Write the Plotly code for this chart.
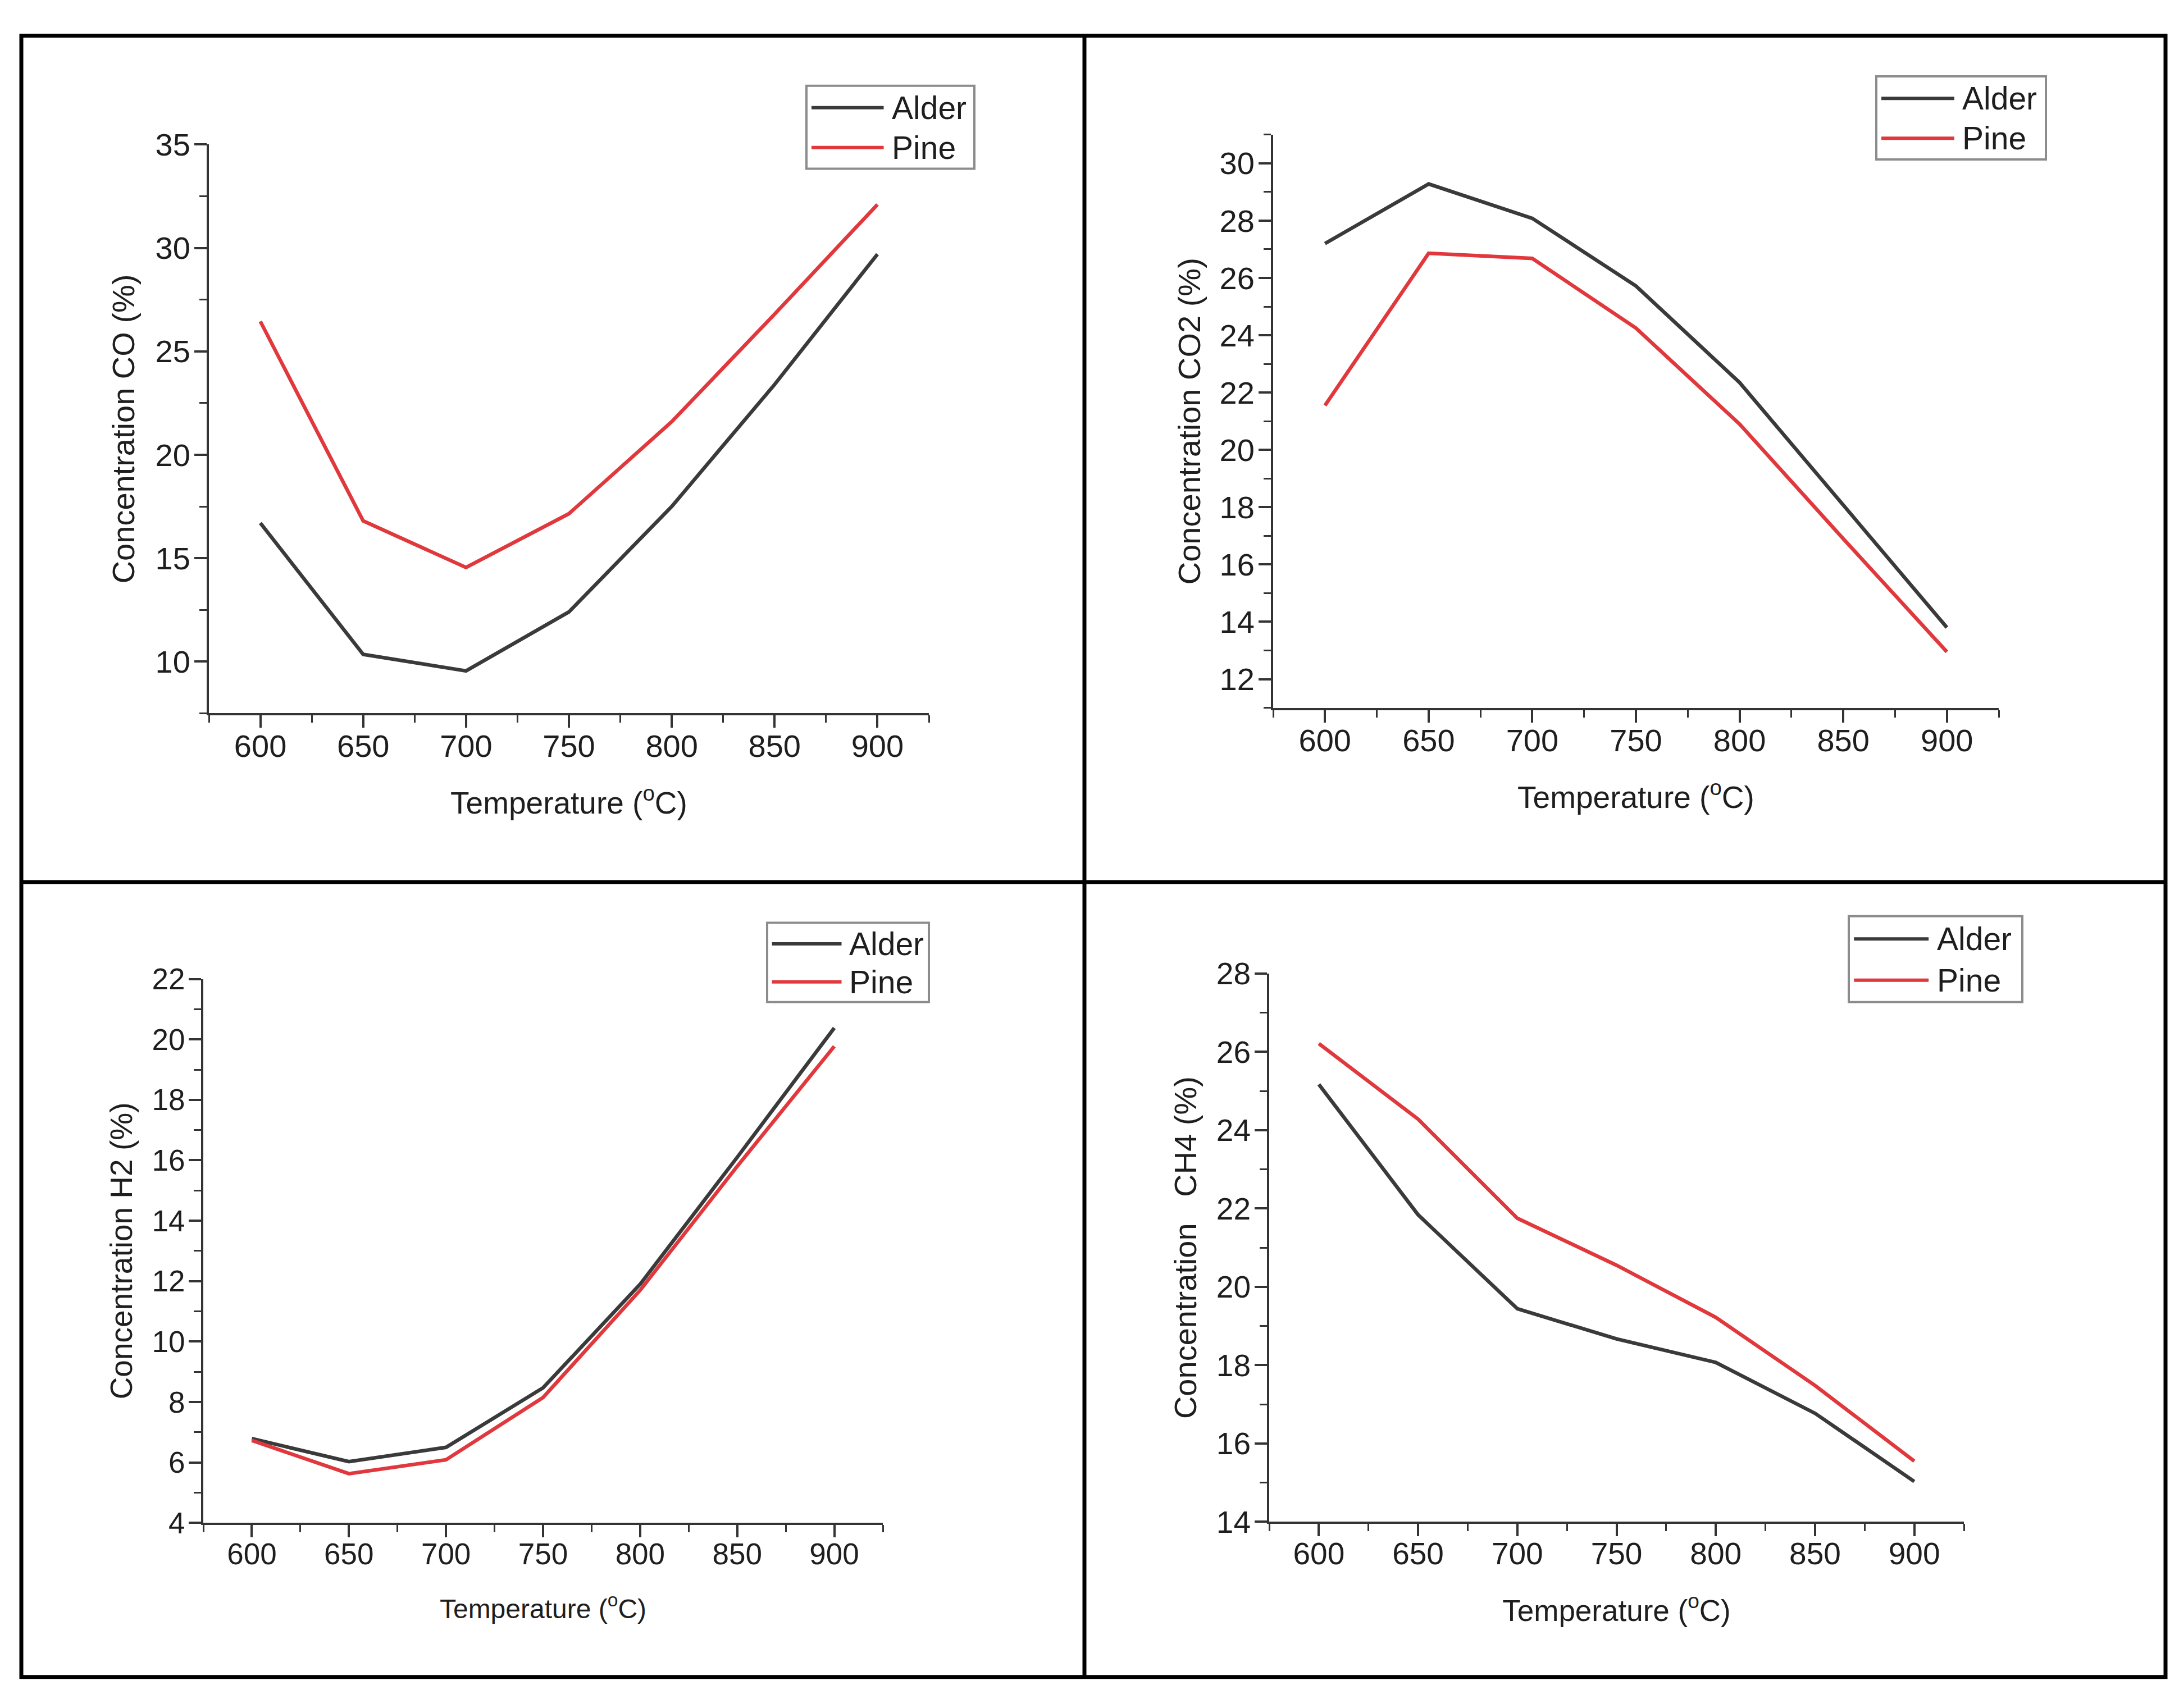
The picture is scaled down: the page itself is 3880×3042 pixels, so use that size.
import plotly.graph_objects as go

W, H = 3880, 3042

# ---------------- data ----------------
temps = [600, 650, 700, 750, 800, 850, 900]
series_names = ["Alder", "Pine"]

co_alder = [16.7, 10.35, 9.55, 12.4, 17.5, 23.4, 29.7]
co_pine = [26.45, 16.8, 14.55, 17.15, 21.6, 26.8, 32.1]

co2_alder = [27.2, 29.28, 28.08, 25.72, 22.35, 18.08, 13.8]
co2_pine = [21.55, 26.86, 26.68, 24.25, 20.9, 16.9, 12.95]

h2_alder = [6.79, 6.03, 6.5, 8.47, 11.9, 16.1, 20.38]
h2_pine = [6.73, 5.63, 6.09, 8.15, 11.7, 15.8, 19.77]

ch4_alder = [25.17, 21.84, 19.44, 18.67, 18.07, 16.77, 15.03]
ch4_pine = [26.21, 24.28, 21.75, 20.55, 19.22, 17.48, 15.55]

x_title = "Temperature (<sup>o</sup>C)"
y_titles = ["Concentration CO (%)", "Concentration CO2 (%)",
            "Concentration H2 (%)", "Concentration\u00a0\u00a0 CH4 (%)"]

# ---------------- styling ----------------
colors = ["#3a3a3a", "#e0383c"]
FONT = "Liberation Sans, Arial, sans-serif"
TXT = "#1e1e1e"


def px(x):
    return x / W


def py(y):
    return 1 - y / H


panels = [
    dict(alder=co_alder, pine=co_pine, ytitle=y_titles[0], yrange=[7.5, 35], dtick=5, mdtick=2.5,
         box=(364, 223, 1646, 1257), leg=(1428, 116, 1727, 267), tfs=56, xtfs=55, ytfs=56, ystand=20),
    dict(alder=co2_alder, pine=co2_pine, ytitle=y_titles[1], yrange=[11, 31], dtick=2, mdtick=1,
         box=(2259, 205, 3551, 1247), leg=(3333, 99, 3635, 250), tfs=56, xtfs=55, ytfs=56, ystand=17),
    dict(alder=h2_alder, pine=h2_pine, ytitle=y_titles[2], yrange=[4, 22], dtick=2, mdtick=1,
         box=(354, 1740, 1564, 2729), leg=(1358, 1638, 1646, 1782), tfs=53, xtfs=48, ytfs=55, ystand=18),
    dict(alder=ch4_alder, pine=ch4_pine, ytitle=y_titles[3], yrange=[14, 28], dtick=2, mdtick=1,
         box=(2252, 1730, 3489, 2727), leg=(3284, 1626, 3593, 1782), tfs=55, xtfs=53, ytfs=56, ystand=18),
]

fig = go.Figure()
shapes = []
annotations = []
layout_axes = {}

for i, p in enumerate(panels, start=1):
    xa = "x" if i == 1 else f"x{i}"
    ya = "y" if i == 1 else f"y{i}"
    for name, vals, col in zip(series_names, [p["alder"], p["pine"]], colors):
        fig.add_trace(go.Scatter(x=temps, y=vals, mode="lines", name=name,
                                 line=dict(color=col, width=6.5),
                                 xaxis=xa, yaxis=ya, showlegend=False))
    x0, y0, x1, y1 = p["box"]
    common = dict(showline=True, linecolor="#333333", linewidth=4, ticks="outside",
                  ticklen=22, tickwidth=4, tickcolor="#333333", showgrid=False,
                  zeroline=False, tickfont=dict(family=FONT, size=p["tfs"], color=TXT))
    layout_axes["xaxis" if i == 1 else f"xaxis{i}"] = dict(
        domain=[px(x0), px(x1)], range=[575, 925], tickmode="linear", tick0=600, dtick=50,
        anchor=ya, ticklabelstandoff=-16,
        minor=dict(ticks="outside", ticklen=13, tickwidth=3, tickcolor="#333333", dtick=25, tick0=575),
        title=dict(text=x_title, font=dict(family=FONT, size=p["xtfs"], color=TXT), standoff=53),
        **common)
    layout_axes["yaxis" if i == 1 else f"yaxis{i}"] = dict(
        domain=[py(y1), py(y0)], range=p["yrange"], tickmode="linear", tick0=0, dtick=p["dtick"],
        anchor=xa, ticklabelstandoff=-4,
        minor=dict(ticks="outside", ticklen=13, tickwidth=3, tickcolor="#333333", dtick=p["mdtick"], tick0=0),
        title=dict(text=p["ytitle"], font=dict(family=FONT, size=p["ytfs"], color=TXT), standoff=p["ystand"]),
        **common)

    # legend box (manual, to get long line samples)
    lx0, ly0, lx1, ly1 = p["leg"]
    shapes.append(dict(type="rect", xref="paper", yref="paper",
                       x0=px(lx0), x1=px(lx1), y0=py(ly1), y1=py(ly0),
                       line=dict(color="#8c8c8c", width=4), fillcolor="white", layer="above"))
    hgt = ly1 - ly0
    wid = lx1 - lx0
    for k, (name, col) in enumerate(zip(series_names, colors)):
        ly = ly0 + hgt * (0.265 + 0.48 * k)
        shapes.append(dict(type="line", xref="paper", yref="paper",
                           x0=px(lx0 + 0.03 * wid), x1=px(lx0 + 0.46 * wid), y0=py(ly), y1=py(ly),
                           line=dict(color=col, width=6), layer="above"))
        annotations.append(dict(xref="paper", yref="paper", x=px(lx0 + 0.5 * wid), y=py(ly),
                                xanchor="left", yanchor="middle", showarrow=False, text=name,
                                font=dict(family=FONT, size=57, color=TXT)))

# outer frame and dividers
bx0, by0, bx1, by1 = 30, 25, 3848, 3009
midx, midy = 1923, 1564
shapes.append(dict(type="rect", xref="paper", yref="paper", x0=px(bx0), x1=px(bx1),
                   y0=py(by1), y1=py(by0), line=dict(color="black", width=7)))
shapes.append(dict(type="line", xref="paper", yref="paper", x0=px(midx), x1=px(midx),
                   y0=py(by1), y1=py(by0), line=dict(color="black", width=7)))
shapes.append(dict(type="line", xref="paper", yref="paper", x0=px(bx0), x1=px(bx1),
                   y0=py(midy), y1=py(midy), line=dict(color="black", width=7)))

fig.update_layout(width=W, height=H, margin=dict(l=0, r=0, t=0, b=0),
                  paper_bgcolor="white", plot_bgcolor="white",
                  shapes=shapes, annotations=annotations, showlegend=False,
                  font=dict(family=FONT, color=TXT), **layout_axes)

fig.write_html("out.html")
